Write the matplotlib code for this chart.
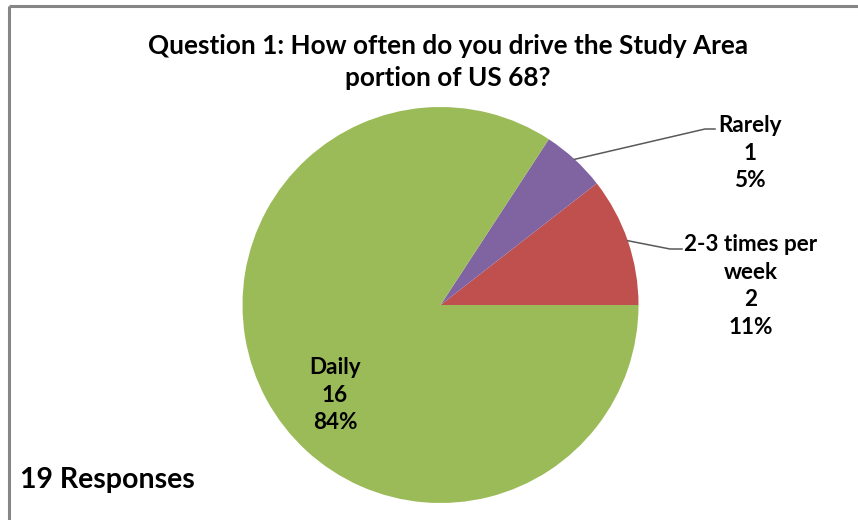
import matplotlib
matplotlib.use("Agg")
import matplotlib.pyplot as plt
import numpy as np

plt.rcParams['font.family'] = ['Lato', 'DejaVu Sans']

# survey answers, drawn counterclockwise from 3 o'clock
categories = ['2-3 times per\nweek', 'Rarely', 'Daily']
counts = [2, 1, 16]
colors = ['#C0504D', '#8064A2', '#9BBB59']
title = 'Question 1: How often do you drive the Study Area\nportion of US 68?'
n_responses = sum(counts)

W, H = 858, 520
fig = plt.figure(figsize=(W / 100, H / 100), dpi=100)
ax = fig.add_axes([0, 0, 1, 1])

cx, cy, r = 440.5, H - 305, 198
wedges, _ = ax.pie(counts, colors=colors, startangle=0, counterclock=True,
                   center=(cx, cy), radius=r,
                   wedgeprops=dict(linewidth=0))
ax.set_xlim(0, W)
ax.set_ylim(0, H)
ax.axis('off')

# chart frame (only top and left edges visible in the crop)
ax.plot([8.5, W], [H - 5.5, H - 5.5], color='#868686', lw=2.2, solid_capstyle='butt')
ax.plot([8.5, 8.5], [0, H - 5.5], color='#868686', lw=2.2, solid_capstyle='butt')

ax.text(448, H - 62, title, ha='center', va='center', fontsize=18.8,
        fontweight='bold', linespacing=1.42)

total = float(sum(counts))
pcts = [round(c / total * 100) for c in counts]
labels = [f'{cat}\n{c}\n{p}%' for cat, c, p in zip(categories, counts, pcts)]

# label placement (pixel coords, y from top) and leader elbow points
label_pos = [(751, 286), (750, 153), (335, 395)]
elbows = [[(670, 249), (682, 249)], [(705, 129), (715, 129)], None]

for w, lab, (lx, ly), elb in zip(wedges, labels, label_pos, elbows):
    ax.text(lx, H - ly, lab, ha='center', va='center', fontsize=16.2,
            fontweight='bold', linespacing=1.38)
    if elb is not None:
        mid = np.deg2rad((w.theta1 + w.theta2) / 2)
        xs = [cx + r * np.cos(mid)] + [p[0] for p in elb]
        ys = [cy + r * np.sin(mid)] + [H - p[1] for p in elb]
        ax.plot(xs, ys, color='#595959', lw=1.1)

ax.text(20, H - 480, f'{n_responses} Responses', ha='left', va='center',
        fontsize=20.5, fontweight='bold')

fig.savefig('out.png', dpi=100)
